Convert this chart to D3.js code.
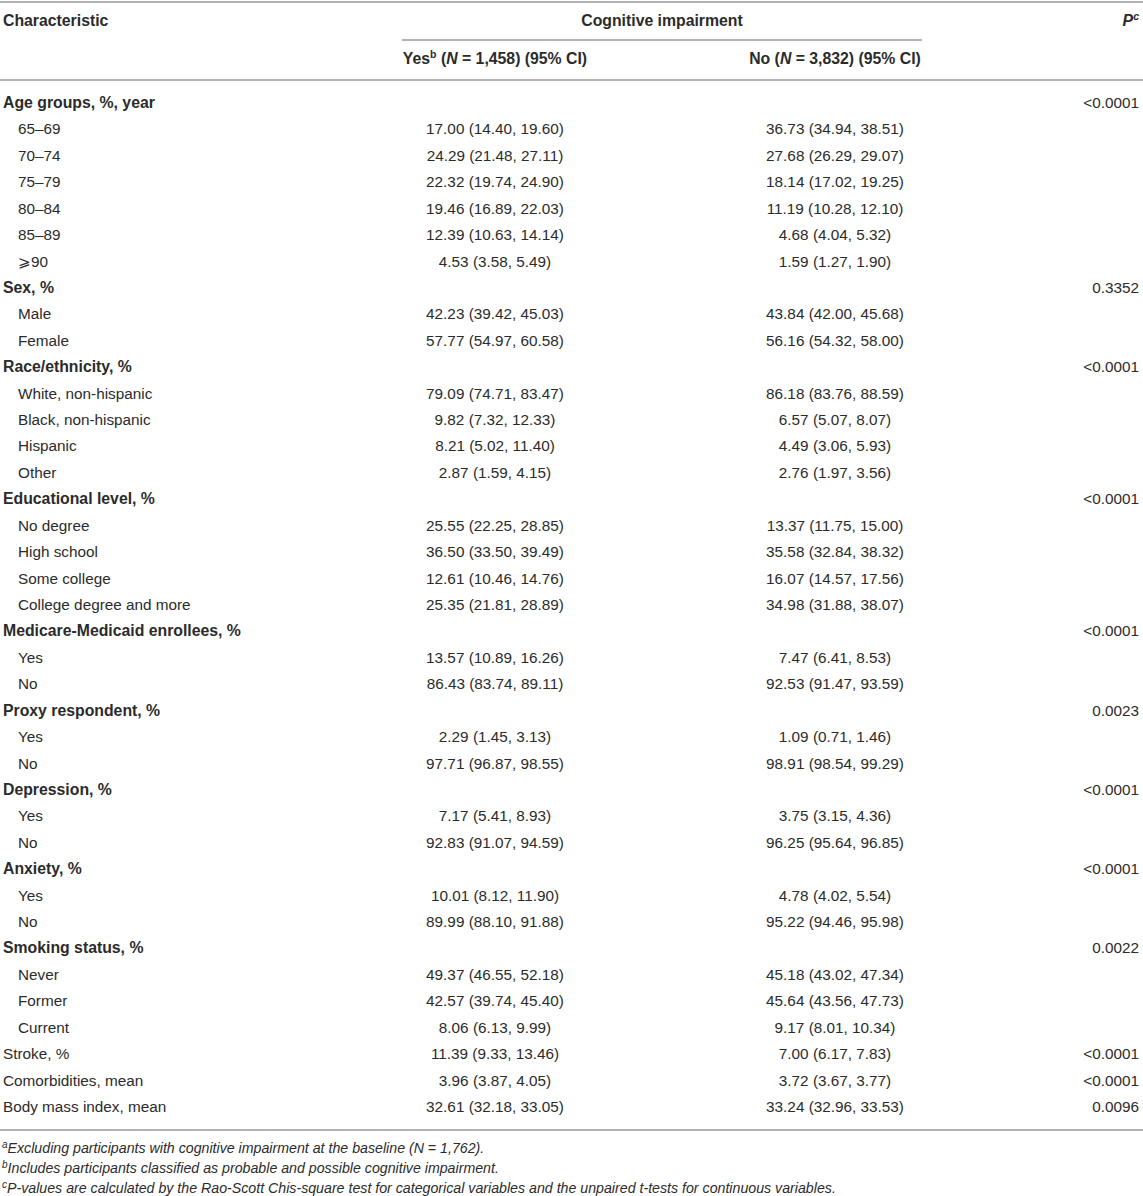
<!DOCTYPE html>
<html><head><meta charset="utf-8">
<script src="https://cdn.jsdelivr.net/npm/d3@7"></script>
<style>
html,body{margin:0;padding:0;background:#fff;}
svg{display:block;font-family:"Liberation Sans",Arial,Helvetica,sans-serif;}
</style></head>
<body>
<svg id="t" width="1143" height="1196"></svg>
<script>
const labels = ["Age groups, %, year","65–69","70–74","75–79","80–84","85–89","⩾90",
"Sex, %","Male","Female",
"Race/ethnicity, %","White, non-hispanic","Black, non-hispanic","Hispanic","Other",
"Educational level, %","No degree","High school","Some college","College degree and more",
"Medicare-Medicaid enrollees, %","Yes","No",
"Proxy respondent, %","Yes","No",
"Depression, %","Yes","No",
"Anxiety, %","Yes","No",
"Smoking status, %","Never","Former","Current",
"Stroke, %","Comorbidities, mean","Body mass index, mean"];
// kind: g = group heading (bold), s = sub row (indented), r = plain row
const kinds = ["g","s","s","s","s","s","s","g","s","s","g","s","s","s","s","g","s","s","s","s","g","s","s","g","s","s","g","s","s","g","s","s","g","s","s","s","r","r","r"];
const yesValues = ["","17.00 (14.40, 19.60)","24.29 (21.48, 27.11)","22.32 (19.74, 24.90)","19.46 (16.89, 22.03)","12.39 (10.63, 14.14)","4.53 (3.58, 5.49)",
"","42.23 (39.42, 45.03)","57.77 (54.97, 60.58)",
"","79.09 (74.71, 83.47)","9.82 (7.32, 12.33)","8.21 (5.02, 11.40)","2.87 (1.59, 4.15)",
"","25.55 (22.25, 28.85)","36.50 (33.50, 39.49)","12.61 (10.46, 14.76)","25.35 (21.81, 28.89)",
"","13.57 (10.89, 16.26)","86.43 (83.74, 89.11)",
"","2.29 (1.45, 3.13)","97.71 (96.87, 98.55)",
"","7.17 (5.41, 8.93)","92.83 (91.07, 94.59)",
"","10.01 (8.12, 11.90)","89.99 (88.10, 91.88)",
"","49.37 (46.55, 52.18)","42.57 (39.74, 45.40)","8.06 (6.13, 9.99)",
"11.39 (9.33, 13.46)","3.96 (3.87, 4.05)","32.61 (32.18, 33.05)"];
const noValues = ["","36.73 (34.94, 38.51)","27.68 (26.29, 29.07)","18.14 (17.02, 19.25)","11.19 (10.28, 12.10)","4.68 (4.04, 5.32)","1.59 (1.27, 1.90)",
"","43.84 (42.00, 45.68)","56.16 (54.32, 58.00)",
"","86.18 (83.76, 88.59)","6.57 (5.07, 8.07)","4.49 (3.06, 5.93)","2.76 (1.97, 3.56)",
"","13.37 (11.75, 15.00)","35.58 (32.84, 38.32)","16.07 (14.57, 17.56)","34.98 (31.88, 38.07)",
"","7.47 (6.41, 8.53)","92.53 (91.47, 93.59)",
"","1.09 (0.71, 1.46)","98.91 (98.54, 99.29)",
"","3.75 (3.15, 4.36)","96.25 (95.64, 96.85)",
"","4.78 (4.02, 5.54)","95.22 (94.46, 95.98)",
"","45.18 (43.02, 47.34)","45.64 (43.56, 47.73)","9.17 (8.01, 10.34)",
"7.00 (6.17, 7.83)","3.72 (3.67, 3.77)","33.24 (32.96, 33.53)"];
const pValues = ["<0.0001","","","","","","",
"0.3352","","",
"<0.0001","","","","",
"<0.0001","","","","",
"<0.0001","","",
"0.0023","","",
"<0.0001","","",
"<0.0001","","",
"0.0022","","","",
"<0.0001","<0.0001","0.0096"];
const footSup = ["a","b","c"];
const footText = [
 "Excluding participants with cognitive impairment at the baseline (N = 1,762).",
 "Includes participants classified as probable and possible cognitive impairment.",
 "P-values are calculated by the Rao-Scott Chis-square test for categorical variables and the unpaired t-tests for continuous variables."
];

const svg = d3.select("#t");
const W = 1143;
const textColor = "#2b2b2b";
const ruleColor = "#b3b3b3";
const fs = 15.3, fsb = 15.8;

const y = d3.scalePoint().domain(d3.range(labels.length)).range([108, 1112]);
const x = {label:3, indent:18, yes:495, no:835, p:1139, subL:402, subR:922};

function rule(x1,x2,yy){ svg.append("line").attr("x1",x1).attr("x2",x2).attr("y1",yy).attr("y2",yy)
  .attr("stroke",ruleColor).attr("stroke-width",2); }
rule(0,W,2); rule(x.subL,x.subR,40); rule(0,W,80); rule(0,W,1130);

// header
const hdr = svg.append("g").attr("fill",textColor).attr("font-size",fsb).attr("font-weight","bold");
hdr.append("text").attr("x",x.label).attr("y",26).text("Characteristic");
hdr.append("text").attr("x",(x.subL+x.subR)/2).attr("y",26).attr("text-anchor","middle").text("Cognitive impairment");
const pt = hdr.append("text").attr("x",x.p).attr("y",26).attr("text-anchor","end");
pt.append("tspan").attr("font-style","italic").text("P");
pt.append("tspan").attr("font-style","italic").attr("font-size",10.5).attr("dy",-6).text("c");

const yh = hdr.append("text").attr("x",x.yes).attr("y",64).attr("text-anchor","middle");
yh.append("tspan").text("Yes");
yh.append("tspan").attr("font-size",10.5).attr("dy",-6).text("b");
yh.append("tspan").attr("dy",6).text(" (");
yh.append("tspan").attr("font-style","italic").text("N");
yh.append("tspan").text(" = 1,458) (95% CI)");

const nh = hdr.append("text").attr("x",x.no).attr("y",64).attr("text-anchor","middle");
nh.append("tspan").text("No (");
nh.append("tspan").attr("font-style","italic").text("N");
nh.append("tspan").text(" = 3,832) (95% CI)");

// body rows
const rows = svg.append("g").attr("fill",textColor).attr("font-size",fs);
const idx = d3.range(labels.length);
rows.selectAll("text.lab").data(idx).join("text").attr("class","lab")
  .attr("x",i=>kinds[i]==="s"?x.indent:x.label).attr("y",i=>y(i))
  .attr("font-weight",i=>kinds[i]==="g"?"bold":"normal")
  .attr("font-size",i=>kinds[i]==="g"?fsb:fs).text(i=>labels[i]);
rows.selectAll("text.yes").data(idx.filter(i=>yesValues[i])).join("text").attr("class","yes")
  .attr("x",x.yes).attr("y",i=>y(i)).attr("text-anchor","middle").text(i=>yesValues[i]);
rows.selectAll("text.no").data(idx.filter(i=>noValues[i])).join("text").attr("class","no")
  .attr("x",x.no).attr("y",i=>y(i)).attr("text-anchor","middle").text(i=>noValues[i]);
rows.selectAll("text.p").data(idx.filter(i=>pValues[i])).join("text").attr("class","p")
  .attr("x",x.p).attr("y",i=>y(i)).attr("text-anchor","end").text(i=>pValues[i]);

// footnotes
const fy = d3.scalePoint().domain(d3.range(footText.length)).range([1153,1193]);
const fn = svg.append("g").attr("fill",textColor).attr("font-size",14.2).attr("font-style","italic");
footText.forEach((f,i)=>{
  const t = fn.append("text").attr("x",2).attr("y",fy(i));
  t.append("tspan").attr("font-size",10).attr("dy",-5).text(footSup[i]);
  t.append("tspan").attr("dy",5).text(f);
});
</script>
</body></html>
